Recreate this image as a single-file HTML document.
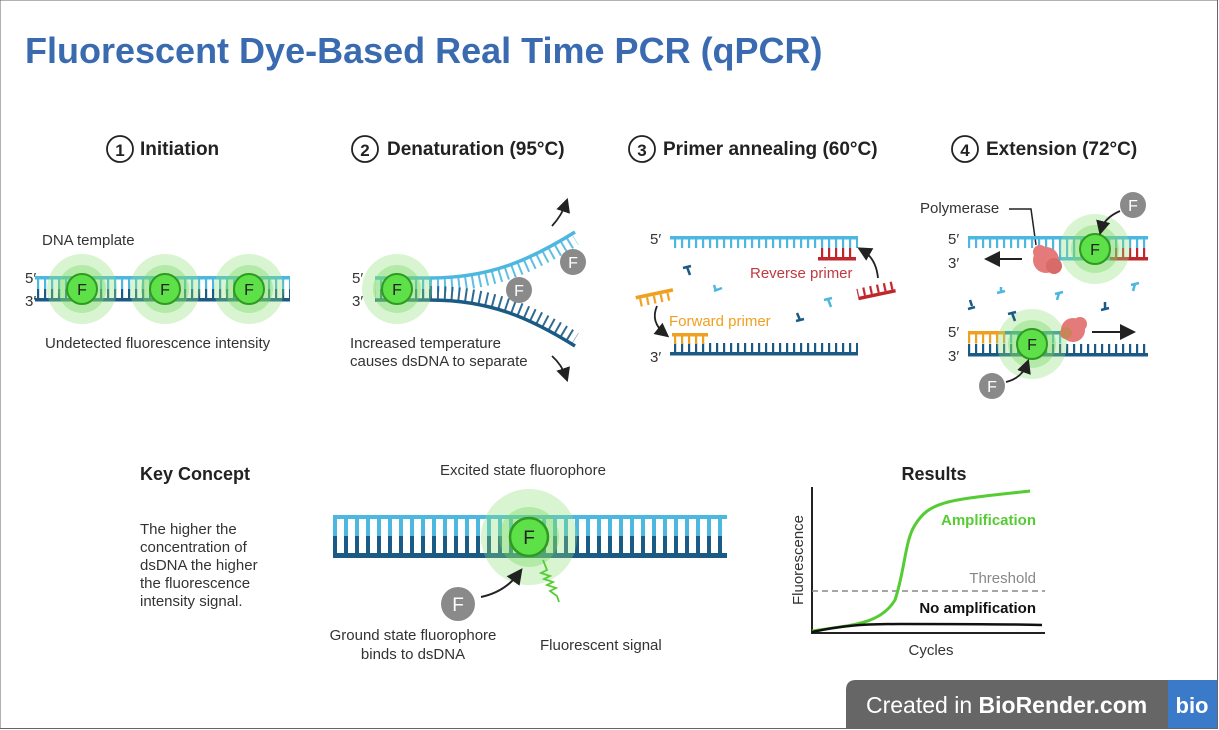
<!DOCTYPE html>
<html><head><meta charset="utf-8"><style>
body{margin:0;width:1219px;height:730px;background:#fff;overflow:hidden;font-family:"Liberation Sans",sans-serif}
svg{position:absolute;left:0;top:0}
</style></head><body>
<svg width="1219" height="730" viewBox="0 0 1219 730" font-family="Liberation Sans, sans-serif">
<defs>
<pattern id="rl" width="7" height="40" patternUnits="userSpaceOnUse"><rect x="2" width="2.2" height="40" fill="#4cb8e0"/></pattern>
<pattern id="rd" width="7" height="40" patternUnits="userSpaceOnUse"><rect x="2" width="2.2" height="40" fill="#1a5a85"/></pattern>
<pattern id="rr" width="7" height="40" patternUnits="userSpaceOnUse"><rect x="2" width="2.2" height="40" fill="#c0272d"/></pattern>
<pattern id="ro" width="7" height="40" patternUnits="userSpaceOnUse"><rect x="2" width="2.2" height="40" fill="#f0a020"/></pattern>
<pattern id="rb" width="11" height="40" patternUnits="userSpaceOnUse"><rect x="3" width="4" height="40" fill="#4cb8e0"/></pattern>
<pattern id="rbd" width="11" height="40" patternUnits="userSpaceOnUse"><rect x="3" width="4" height="40" fill="#1a5a85"/></pattern>
<marker id="ah" markerWidth="8" markerHeight="8" refX="5" refY="4" orient="auto"><path d="M0,0L8,4L0,8z" fill="#222"/></marker>
<g id="fl"><circle r="35" fill="#8ee07a" opacity=".35"/><circle r="24" fill="#6fd65a" opacity=".35"/><circle r="15" fill="#5de048" stroke="#2e9a20" stroke-width="2"/><text y="6" text-anchor="middle" font-size="16" fill="#222">F</text></g>
<g id="gf"><circle r="13" fill="#8a8a8a"/><text y="6" text-anchor="middle" font-size="16" fill="#fff">F</text></g>
</defs>
<rect x="0" y="0" width="1217.5" height="728.5" fill="none" stroke="#666" stroke-width="1"/>
<text x="25" y="63" font-size="36" font-weight="bold" fill="#3a6bb0">Fluorescent Dye-Based Real Time PCR (qPCR)</text>

<g font-size="19" font-weight="bold" fill="#222">
<circle cx="120" cy="149" r="13" fill="none" stroke="#222" stroke-width="1.8"/><text x="120" y="156" text-anchor="middle" font-size="17">1</text><text x="140" y="155">Initiation</text>
<circle cx="365" cy="149" r="13" fill="none" stroke="#222" stroke-width="1.8"/><text x="365" y="156" text-anchor="middle" font-size="17">2</text><text x="387" y="155">Denaturation (95°C)</text>
<circle cx="642" cy="149" r="13" fill="none" stroke="#222" stroke-width="1.8"/><text x="642" y="156" text-anchor="middle" font-size="17">3</text><text x="663" y="155">Primer annealing (60°C)</text>
<circle cx="965" cy="149" r="13" fill="none" stroke="#222" stroke-width="1.8"/><text x="965" y="156" text-anchor="middle" font-size="17">4</text><text x="986" y="155">Extension (72°C)</text>
</g>

<!-- step1 -->
<g font-size="15" fill="#333">
<text x="42" y="245">DNA template</text>
<text x="25" y="283">5′</text><text x="25" y="306">3′</text>
<text x="45" y="348">Undetected fluorescence intensity</text>
</g>
<rect x="35" y="279" width="255" height="10" fill="url(#rl)"/>
<rect x="35" y="289" width="255" height="10" fill="url(#rd)"/>
<rect x="35" y="276" width="255" height="3.5" fill="#4cb8e0"/>
<rect x="35" y="298" width="255" height="3.5" fill="#1a5a85"/>
<use href="#fl" x="82" y="289"/><use href="#fl" x="165" y="289"/><use href="#fl" x="249" y="289"/>

<!-- step2 -->
<g font-size="15" fill="#333">
<text x="352" y="283">5′</text><text x="352" y="306">3′</text>
<text x="350" y="348">Increased temperature</text><text x="350" y="366">causes dsDNA to separate</text>
</g>
<rect x="375" y="279" width="58" height="10" fill="url(#rl)"/>
<rect x="375" y="289" width="58" height="10" fill="url(#rd)"/>
<path d="M375,278 L430,278 C490,278 530,260 575,232" fill="none" stroke="#4cb8e0" stroke-width="3.5"/>
<path d="M430,278 C490,278 530,260 575,232" fill="none" stroke="#4cb8e0" stroke-width="14" stroke-dasharray="2 5" transform="translate(0,7)" opacity=".9"/>
<path d="M375,300 L430,300 C490,300 530,318 575,346" fill="none" stroke="#1a5a85" stroke-width="3.5"/>
<path d="M430,300 C490,300 530,318 575,346" fill="none" stroke="#1a5a85" stroke-width="14" stroke-dasharray="2 5" transform="translate(0,-7)" opacity=".9"/>
<use href="#fl" x="397" y="289"/>
<use href="#gf" x="573" y="262"/><use href="#gf" x="519" y="290"/>
<path d="M552,226 Q562,215 566,203" fill="none" stroke="#222" stroke-width="1.8" marker-end="url(#ah)"/>
<path d="M552,356 Q562,365 566,377" fill="none" stroke="#222" stroke-width="1.8" marker-end="url(#ah)"/>

<!-- step3 -->
<g font-size="15" fill="#333"><text x="650" y="244">5′</text><text x="650" y="362">3′</text></g>
<rect x="670" y="236" width="188" height="3.5" fill="#4cb8e0"/>
<rect x="670" y="239" width="188" height="9" fill="url(#rl)"/>
<rect x="818" y="248" width="38" height="9" fill="url(#rr)"/>
<rect x="818" y="257" width="38" height="3.5" fill="#c0272d"/>
<rect x="670" y="352" width="188" height="3.5" fill="#1a5a85"/>
<rect x="670" y="343" width="188" height="9" fill="url(#rd)"/>
<rect x="672" y="333" width="36" height="3.5" fill="#f0a020"/>
<rect x="672" y="336" width="36" height="8" fill="url(#ro)"/>
<g transform="rotate(-12 876 290)"><rect x="857" y="293" width="38" height="3.5" fill="#c0272d"/><rect x="857" y="285" width="38" height="8" fill="url(#rr)"/></g>
<g transform="rotate(-12 655 297)"><rect x="636" y="292" width="38" height="3.5" fill="#f0a020"/><rect x="636" y="295.5" width="38" height="8" fill="url(#ro)"/></g>
<text x="750" y="278" font-size="15" fill="#c0393f">Reverse primer</text>
<text x="669" y="326" font-size="15" fill="#f0a020">Forward primer</text>
<path d="M878,278 Q876,258 862,250" fill="none" stroke="#222" stroke-width="1.8" marker-end="url(#ah)"/>
<path d="M657,306 Q650,322 665,334" fill="none" stroke="#222" stroke-width="1.8" marker-end="url(#ah)"/>
<g stroke-width="2.5" fill="none">
<path d="M683,268 l8,-2 M687,267 l3,8" stroke="#1a5a85"/>
<path d="M716,291 l-2,-6 M714,291 l8,-3" stroke="#4cb8e0"/>
<path d="M796,321 l8,-2 M800,320 l-3,-7" stroke="#1a5a85"/>
<path d="M824,300 l8,-2 M828,299 l3,8" stroke="#4cb8e0"/>
</g>

<!-- step4 -->
<g font-size="15" fill="#333">
<text x="920" y="213">Polymerase</text>
<text x="948" y="244">5′</text><text x="948" y="268">3′</text>
<text x="948" y="337">5′</text><text x="948" y="361">3′</text>
</g>
<path d="M1009,209 L1031,209 L1036,245" fill="none" stroke="#222" stroke-width="1.5"/>
<rect x="968" y="236" width="180" height="3.5" fill="#4cb8e0"/>
<rect x="968" y="239" width="180" height="9" fill="url(#rl)"/>
<rect x="1045" y="248" width="65" height="9" fill="url(#rl)"/>
<rect x="1045" y="257" width="65" height="3.5" fill="#4cb8e0"/>
<rect x="1110" y="248" width="38" height="9" fill="url(#rr)"/>
<rect x="1110" y="257" width="38" height="3.5" fill="#c0272d"/>
<use href="#fl" x="1095" y="249"/>
<use href="#gf" x="1133" y="205"/>
<path d="M1120,211 Q1104,218 1101,230" fill="none" stroke="#222" stroke-width="1.8" marker-end="url(#ah)"/>
<circle cx="1046" cy="260" r="13" fill="#e57a7a"/><circle cx="1040" cy="252" r="7" fill="#e57a7a"/><circle cx="1054" cy="266" r="8" fill="#d86a6a"/>
<path d="M1022,259 L990,259" stroke="#222" stroke-width="2" marker-end="url(#ah)"/>
<rect x="968" y="353" width="180" height="3.5" fill="#1a5a85"/>
<rect x="968" y="344" width="180" height="9" fill="url(#rd)"/>
<rect x="968" y="331" width="37" height="3.5" fill="#f0a020"/>
<rect x="968" y="334.5" width="37" height="9" fill="url(#ro)"/>
<rect x="1005" y="331" width="60" height="3.5" fill="#2c8aa0"/>
<rect x="1005" y="334.5" width="60" height="9" fill="url(#rl)"/>
<use href="#fl" x="1032" y="344"/>
<circle cx="1073" cy="330" r="12" fill="#e57a7a"/><circle cx="1066" cy="333" r="6" fill="#c9845a"/><circle cx="1080" cy="324" r="7" fill="#e57a7a"/>
<path d="M1092,332 L1130,332" stroke="#222" stroke-width="2" marker-end="url(#ah)"/>
<use href="#gf" x="992" y="386"/>
<path d="M1006,382 Q1022,378 1027,364" fill="none" stroke="#222" stroke-width="1.8" marker-end="url(#ah)"/>
<g stroke-width="2.5" fill="none">
<path d="M972,306 l-2,-6 M968,309 l7,-2" stroke="#1a5a85"/>
<path d="M1001,293 l0,-6 M997,293 l8,-2" stroke="#4cb8e0"/>
<path d="M1055,294 l8,-2 M1059,293 l-2,7" stroke="#4cb8e0"/>
<path d="M1105,302 l0,8 M1101,310 l8,-2" stroke="#1a5a85"/>
<path d="M1131,285 l8,-2 M1135,284 l-2,7" stroke="#4cb8e0"/>
<path d="M1008,314 l8,-2 M1012,313 l3,8" stroke="#1a5a85"/>
</g>

<!-- key concept -->
<text x="140" y="480" font-size="18" font-weight="bold" fill="#222">Key Concept</text>
<g font-size="15" fill="#333"><text x="140" y="534">The higher the</text><text x="140" y="552">concentration of</text><text x="140" y="570">dsDNA the higher</text><text x="140" y="588">the fluorescence</text><text x="140" y="606">intensity signal.</text></g>
<text x="440" y="475" font-size="15" fill="#333">Excited state fluorophore</text>
<rect x="333" y="515" width="394" height="4" fill="#4cb8e0"/>
<rect x="333" y="519" width="394" height="17" fill="url(#rb)"/>
<rect x="333" y="536" width="394" height="17" fill="url(#rbd)"/>
<rect x="333" y="553" width="394" height="5" fill="#1a5a85"/>
<circle cx="529" cy="537" r="48" fill="#8ee07a" opacity=".35"/><circle cx="529" cy="537" r="30" fill="#6fd65a" opacity=".35"/>
<circle cx="529" cy="537" r="19" fill="#5de048" stroke="#2e9a20" stroke-width="2.5"/><text x="529" y="544" text-anchor="middle" font-size="19" fill="#222">F</text>
<path d="M543,560 l4,10 l-6,3 l9,3 l-6,3 l9,3 l-6,3 l9,3 l-6,3 l7,5 l2,6" fill="none" stroke="#55cc33" stroke-width="1.8"/>
<circle cx="458" cy="604" r="17" fill="#8a8a8a"/><text x="458" y="611" text-anchor="middle" font-size="19" fill="#fff">F</text>
<path d="M481,597 Q505,592 519,573" fill="none" stroke="#222" stroke-width="2" marker-end="url(#ah)"/>
<g font-size="15" fill="#333"><text x="413" y="640" text-anchor="middle">Ground state fluorophore</text><text x="413" y="659" text-anchor="middle">binds to dsDNA</text><text x="540" y="650">Fluorescent signal</text></g>

<!-- graph -->
<text x="934" y="480" font-size="18" font-weight="bold" fill="#222" text-anchor="middle">Results</text>
<path d="M812,487 L812,633 L1045,633" fill="none" stroke="#222" stroke-width="2"/>
<line x1="812" y1="591" x2="1045" y2="591" stroke="#888" stroke-width="1.5" stroke-dasharray="6 4"/>
<path d="M812,631 C850,625 880,625 895,600 C905,570 905,540 915,525 C930,500 950,500 1030,491" fill="none" stroke="#55cc33" stroke-width="3"/>
<path d="M812,632 C840,626 860,624 900,624 C960,624 1000,624 1042,625" fill="none" stroke="#111" stroke-width="2.5"/>
<text x="1036" y="525" font-size="15" font-weight="bold" fill="#55cc33" text-anchor="end">Amplification</text>
<text x="1036" y="583" font-size="15" fill="#888" text-anchor="end">Threshold</text>
<text x="1036" y="613" font-size="15" font-weight="bold" fill="#111" text-anchor="end">No amplification</text>
<text x="931" y="655" font-size="15" fill="#333" text-anchor="middle">Cycles</text>
<text transform="translate(803,560) rotate(-90)" font-size="15" fill="#333" text-anchor="middle">Fluorescence</text>

<!-- badge -->
<path d="M856,680 L1168,680 L1168,728 L846,728 L846,690 Q846,680 856,680z" fill="#666"/>
<rect x="1168" y="680" width="49" height="48" fill="#3a7ac8"/>
<text x="866" y="713" font-size="23" fill="#fff">Created in <tspan font-weight="bold">BioRender.com</tspan></text>
<text x="1192" y="713" font-size="22" font-weight="bold" fill="#fff" text-anchor="middle">bio</text>
</svg>
</body></html>
